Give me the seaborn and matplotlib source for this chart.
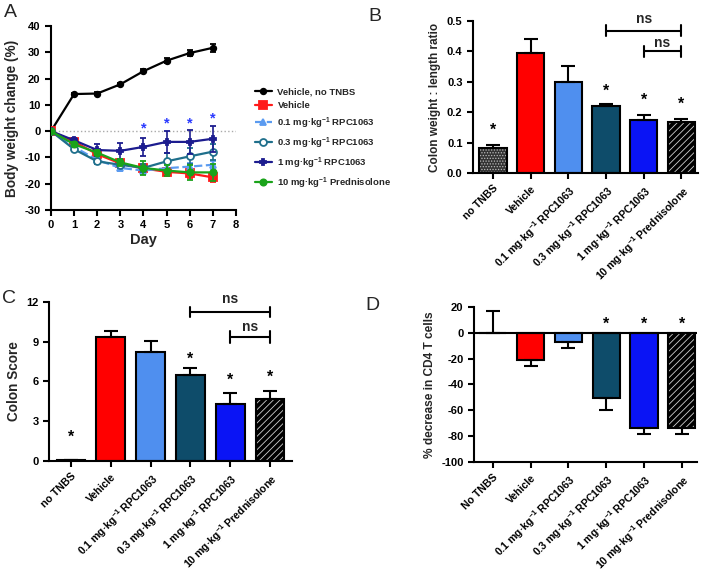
import numpy as np
import pandas as pd
import matplotlib
matplotlib.use("Agg")
import matplotlib.pyplot as plt
import seaborn as sns

sns.set_style("ticks")
plt.rcParams['font.family'] = ['Liberation Sans', 'DejaVu Sans']
plt.rcParams['font.weight'] = 'bold'
plt.rcParams['axes.labelweight'] = 'bold'
plt.rcParams['axes.unicode_minus'] = False
plt.rcParams['mathtext.fontset'] = 'custom'
plt.rcParams['mathtext.rm'] = 'Liberation Sans:bold'
plt.rcParams['mathtext.it'] = 'Liberation Sans:bold'
plt.rcParams['mathtext.bf'] = 'Liberation Sans:bold'
plt.rcParams['mathtext.default'] = 'rm'
plt.rcParams['axes.linewidth'] = 1.5
plt.rcParams['hatch.linewidth'] = 0.6
plt.rcParams['xtick.major.width'] = 1.5
plt.rcParams['ytick.major.width'] = 1.5
plt.rcParams['xtick.major.size'] = 4
plt.rcParams['ytick.major.size'] = 4
plt.rcParams['xtick.color'] = 'black'
plt.rcParams['ytick.color'] = 'black'
plt.rcParams['axes.edgecolor'] = 'black'

# ---------------- data ----------------
# panel A: body weight change (%) per day
days = [0, 1, 2, 3, 4, 5, 6, 7]
line_groups = ['Vehicle, no TNBS', 'Vehicle', '0.1 mg·kg$^{-1}$ RPC1063',
               '0.3 mg·kg$^{-1}$ RPC1063', '1 mg·kg$^{-1}$ RPC1063',
               '10 mg·kg$^{-1}$ Prednisolone']
wt_no_tnbs = [0, 14.1, 14.3, 17.8, 22.8, 26.8, 29.7, 31.7]
wt_no_tnbs_err = [0, 0.4, 0.5, 0.5, 0.8, 1.0, 1.0, 1.5]
wt_vehicle = [0, -4.0, -8.8, -12.3, -14.2, -15.5, -16.1, -17.6]
wt_vehicle_err = [0, 0.8, 1.2, 1.2, 1.5, 1.6, 1.6, 1.6]
wt_01 = [0, -6.0, -11.0, -14.0, -15.0, -14.1, -13.5, -12.8]
wt_01_err = [0, 0.8, 1.0, 1.0, 1.0, 1.5, 1.5, 1.5]
wt_03 = [0, -6.9, -11.5, -12.8, -14.0, -11.5, -9.6, -7.8]
wt_03_err = [0, 0.8, 1.0, 1.2, 1.5, 3.2, 3.0, 3.0]
wt_1 = [0, -3.5, -7.2, -7.5, -6.0, -4.1, -4.1, -2.9]
wt_1_err = [0, 1.0, 2.2, 3.1, 3.4, 4.3, 4.5, 5.0]
wt_pred = [0, -5.0, -8.2, -11.9, -14.0, -15.0, -15.7, -15.7]
wt_pred_err = [0, 0.8, 1.0, 1.2, 2.7, 2.0, 3.0, 3.2]
star_days = [4, 5, 6, 7]
star_y = [3.1, 5.2, 5.2, 6.9]

# bar panels
bar_labels = ['no TNBS', 'Vehicle', '0.1 mg·kg$^{-1}$ RPC1063', '0.3 mg·kg$^{-1}$ RPC1063',
              '1 mg·kg$^{-1}$ RPC1063', '10 mg·kg$^{-1}$ Prednisolone']
bar_labels_d = ['No TNBS'] + bar_labels[1:]

ratio_vals = [0.083, 0.395, 0.298, 0.220, 0.175, 0.168]
ratio_err = [0.008, 0.047, 0.055, 0.007, 0.017, 0.009]
ratio_star_idx = [0, 3, 4, 5]
ratio_star_y = [0.158, 0.286, 0.257, 0.243]

score_vals = [0.05, 9.38, 8.2, 6.49, 4.3, 4.7]
score_err = [0.0, 0.46, 0.86, 0.55, 0.86, 0.6]
score_star_idx = [0, 3, 4, 5]
score_star_y = [2.2, 8.1, 6.5, 6.75]

cd4_vals = [0.0, -21.3, -7.1, -50.5, -73.7, -73.7]
cd4_err = [16.6, 4.4, 4.4, 9.5, 5.0, 4.3]
cd4_star_idx = [3, 4, 5]
cd4_star_y = [11, 11, 11]

bar_colors = ['#333333', '#ff0000', '#4f8fef', '#0e4c6a', '#0a14f5', '#000000']
line_colors = ['black', '#ff1a1a', '#5b9bf0', '#1f6f8b', '#1c1c8f', '#1aa31a']

fig = plt.figure(figsize=(7.09, 5.72), dpi=100)

# ---------------- panel A ----------------
axA = fig.add_axes([0.0719, 0.6329, 0.2609, 0.3217])
series = [(wt_no_tnbs, wt_no_tnbs_err, 'o', 'black', '-', 4),
          (wt_vehicle, wt_vehicle_err, 's', line_colors[1], '-', 5.5),
          (wt_01, wt_01_err, '^', line_colors[2], '--', 4.5),
          (wt_03, wt_03_err, 'o', 'white', '-', 5),
          (wt_1, wt_1_err, 'P', line_colors[4], '-', 4),
          (wt_pred, wt_pred_err, 'o', line_colors[5], '-', 4.5)]
handles = []
for i, (vals, errs, mk, mfc, ls, ms) in enumerate(series):
    c = line_colors[i]
    cont = axA.errorbar(days, vals, yerr=errs, color=c, marker=mk, ms=ms, mfc=mfc,
                        mec=c, mew=1.3, lw=1.6, ls=ls, capsize=2.5, elinewidth=1.2,
                        capthick=1.2, zorder=3 + i)
    handles.append(cont.lines[0])
axA.axhline(0, color='#aaaaaa', lw=1.0, ls=':', zorder=1)
for d, y in zip(star_days, star_y):
    axA.annotate('*', xy=(d, y), xytext=(0, -4), textcoords='offset points',
                 ha='center', va='center', color='#2a3aff', fontsize=10.5)
axA.set_xlim(0, 8)
axA.set_ylim(-30, 40)
axA.set_xticks(range(0, 9))
axA.set_yticks(range(-30, 41, 10))
axA.tick_params(labelsize=8)
axA.set_xlabel('Day', fontsize=10.5, labelpad=2)
axA.set_ylabel('Body weight change (%)', fontsize=9.8, labelpad=4)
sns.despine(ax=axA)
fig.legend(handles=handles, labels=line_groups, loc='upper left',
           bbox_to_anchor=(251 / 709, 1 - 84 / 572), frameon=False,
           prop={'size': 6.8, 'weight': 'bold'}, handlelength=1.8,
           handletextpad=0.6, labelspacing=0.5, borderaxespad=0)


def bar_panel(ax, labels, vals, errs, ylabel, ylsize):
    df = pd.DataFrame({'group': labels, 'value': vals})
    sns.barplot(data=df, x='group', y='value', hue='group', palette=bar_colors,
                saturation=1, width=0.72, edgecolor='black', linewidth=1.5,
                legend=False, errorbar=None, ax=ax, zorder=2)
    x = np.arange(len(vals))
    # hatched bars: no TNBS (dots) and Prednisolone (diagonal)
    for idx, hatch, hc in [(0, '......', '#bbbbbb'), (5, '/////', '#d0d0d0')]:
        p = ax.patches[idx]
        p.set_hatch(hatch)
        p.set_edgecolor(hc)
        p.set_linewidth(0)
    ax.bar(x[[0, 5]], np.array(vals)[[0, 5]], width=0.72, fill=False,
           edgecolor='black', linewidth=1.5, zorder=3)
    vals = np.array(vals)
    errs = np.array(errs)
    lower = np.where(vals < 0, errs, 0)
    upper = np.where(vals < 0, 0, errs)
    ax.errorbar(x, vals, yerr=[lower, upper], fmt='none', ecolor='black',
                elinewidth=1.5, capsize=5, capthick=1.5, zorder=4)
    ax.set_xticks(x)
    ax.set_xticklabels(labels, rotation=45, ha='right', rotation_mode='anchor',
                       fontsize=7.6)
    ax.set_xlabel('')
    ax.set_ylabel(ylabel, fontsize=ylsize)
    ax.tick_params(axis='y', labelsize=8)
    sns.despine(ax=ax)


def stars(ax, idx, ys, size=11.5):
    for i, y in zip(idx, ys):
        ax.annotate('*', xy=(i, y), xytext=(0, -4), textcoords='offset points',
                    ha='center', va='center', fontsize=size, color='black')


def bracket(ax, x1, x2, y, h, ty):
    ax.plot([x1, x2], [y, y], color='black', lw=1.5, clip_on=False)
    ax.plot([x1, x1], [y - h, y + h], color='black', lw=1.5, clip_on=False)
    ax.plot([x2, x2], [y - h, y + h], color='black', lw=1.5, clip_on=False)
    ax.text((x1 + x2) / 2, ty, 'ns', ha='center', va='center', fontsize=10)


# ---------------- panel B ----------------
axB = fig.add_axes([0.6671, 0.6976, 0.318, 0.2657])
bar_panel(axB, bar_labels, ratio_vals, ratio_err, 'Colon weight : length ratio', 8.5)
axB.set_ylim(0, 0.5)
axB.set_xlim(-0.53, 5.45)
axB.set_yticks(np.arange(0, 0.51, 0.1))
axB.set_yticklabels(['0.0', '0.1', '0.2', '0.3', '0.4', '0.5'])
stars(axB, ratio_star_idx, ratio_star_y)
bracket(axB, 3, 5, 0.468, 0.018, 0.505)
bracket(axB, 4, 5, 0.401, 0.018, 0.428)

# ---------------- panel C ----------------
axC = fig.add_axes([0.0691, 0.1941, 0.3427, 0.278])
bar_panel(axC, bar_labels, score_vals, score_err, 'Colon Score', 9.8)
axC.set_ylim(0, 12)
axC.set_xlim(-0.55, 5.55)
axC.set_yticks([0, 3, 6, 9, 12])
stars(axC, score_star_idx, score_star_y)
bracket(axC, 3, 5, 11.25, 0.4, 12.2)
bracket(axC, 4, 5, 9.38, 0.45, 10.1)

# ---------------- panel D ----------------
axD = fig.add_axes([0.6685, 0.1923, 0.3145, 0.271])
bar_panel(axD, bar_labels_d, cd4_vals, cd4_err, '% decrease in CD4 T cells', 8.6)
axD.set_ylim(-100, 20)
axD.set_xlim(-0.5, 5.4)
axD.set_yticks(range(-100, 21, 20))
axD.axhline(0, color='black', lw=1.5, zorder=5)
stars(axD, cd4_star_idx, cd4_star_y)

# panel letters
for lab, xp, yp in [('A', 4, 4), ('B', 368, 8), ('C', 2, 290), ('D', 365, 297)]:
    fig.text(xp / 709, 1 - yp / 572, lab, fontsize=14, fontweight='normal',
             ha='left', va='top')

fig.savefig('out.png', dpi=100)
